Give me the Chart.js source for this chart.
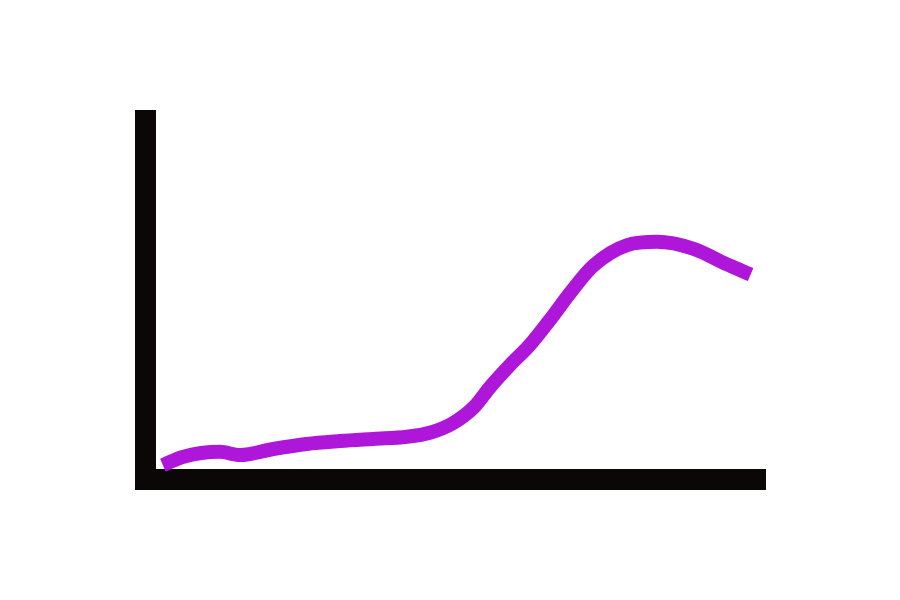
<!DOCTYPE html>
<html>
<head>
<meta charset="utf-8">
<script src="https://cdn.jsdelivr.net/npm/chart.js@4"></script>
<style>
  html, body { margin: 0; padding: 0; background: #ffffff; }
  #wrap { width: 900px; height: 600px; }
</style>
</head>
<body>
<div id="wrap"><canvas id="chart" width="900" height="600"></canvas></div>
<script>
// curve samples (x and y both on a 0..100 scale)
const xValues = [2.8, 6.0, 12.0, 15.2, 20.6, 26.0, 31.4, 36.7, 42.2, 46.0, 49.5,
                 53.0, 55.7, 58.8, 62.0, 65.2, 68.5, 72.2, 77.7, 82.5, 88.3, 93.8, 97.6];
const yValues = [4.0, 6.3, 7.7, 6.8, 8.5, 9.9, 10.7, 11.3, 11.9, 13.1, 15.6,
                 20.2, 26.0, 31.9, 37.5, 44.4, 52.0, 59.5, 65.3, 66.2, 64.3, 59.9, 57.1];
const xRange = [0, 100];
const yRange = [0, 100];

const points = xValues.map((x, i) => ({ x: x, y: yValues[i] }));

const axisColor = '#0b0706';
const lineColor = '#ae16da';

new Chart(document.getElementById('chart').getContext('2d'), {
    type: 'line',
    data: {
        datasets: [{
            data: points,
            borderColor: lineColor,
            borderWidth: 14,
            borderCapStyle: 'butt',
            borderJoinStyle: 'round',
            cubicInterpolationMode: 'monotone',
            pointRadius: 0,
            fill: false
        }]
    },
    options: {
        responsive: false,
        animation: false,
        devicePixelRatio: 1,
        layout: {
            padding: { left: 145.5, top: 120.5, right: 134.5, bottom: 120.5 }
        },
        plugins: {
            legend: { display: false },
            tooltip: { enabled: false }
        },
        scales: {
            x: {
                type: 'linear',
                min: xRange[0],
                max: xRange[1],
                ticks: { display: false },
                grid: { display: false, drawTicks: false },
                border: { display: true, color: axisColor, width: 21 }
            },
            y: {
                type: 'linear',
                min: yRange[0],
                max: yRange[1],
                ticks: { display: false },
                grid: { display: false, drawTicks: false },
                border: { display: true, color: axisColor, width: 21 }
            }
        }
    }
});
</script>
</body>
</html>
